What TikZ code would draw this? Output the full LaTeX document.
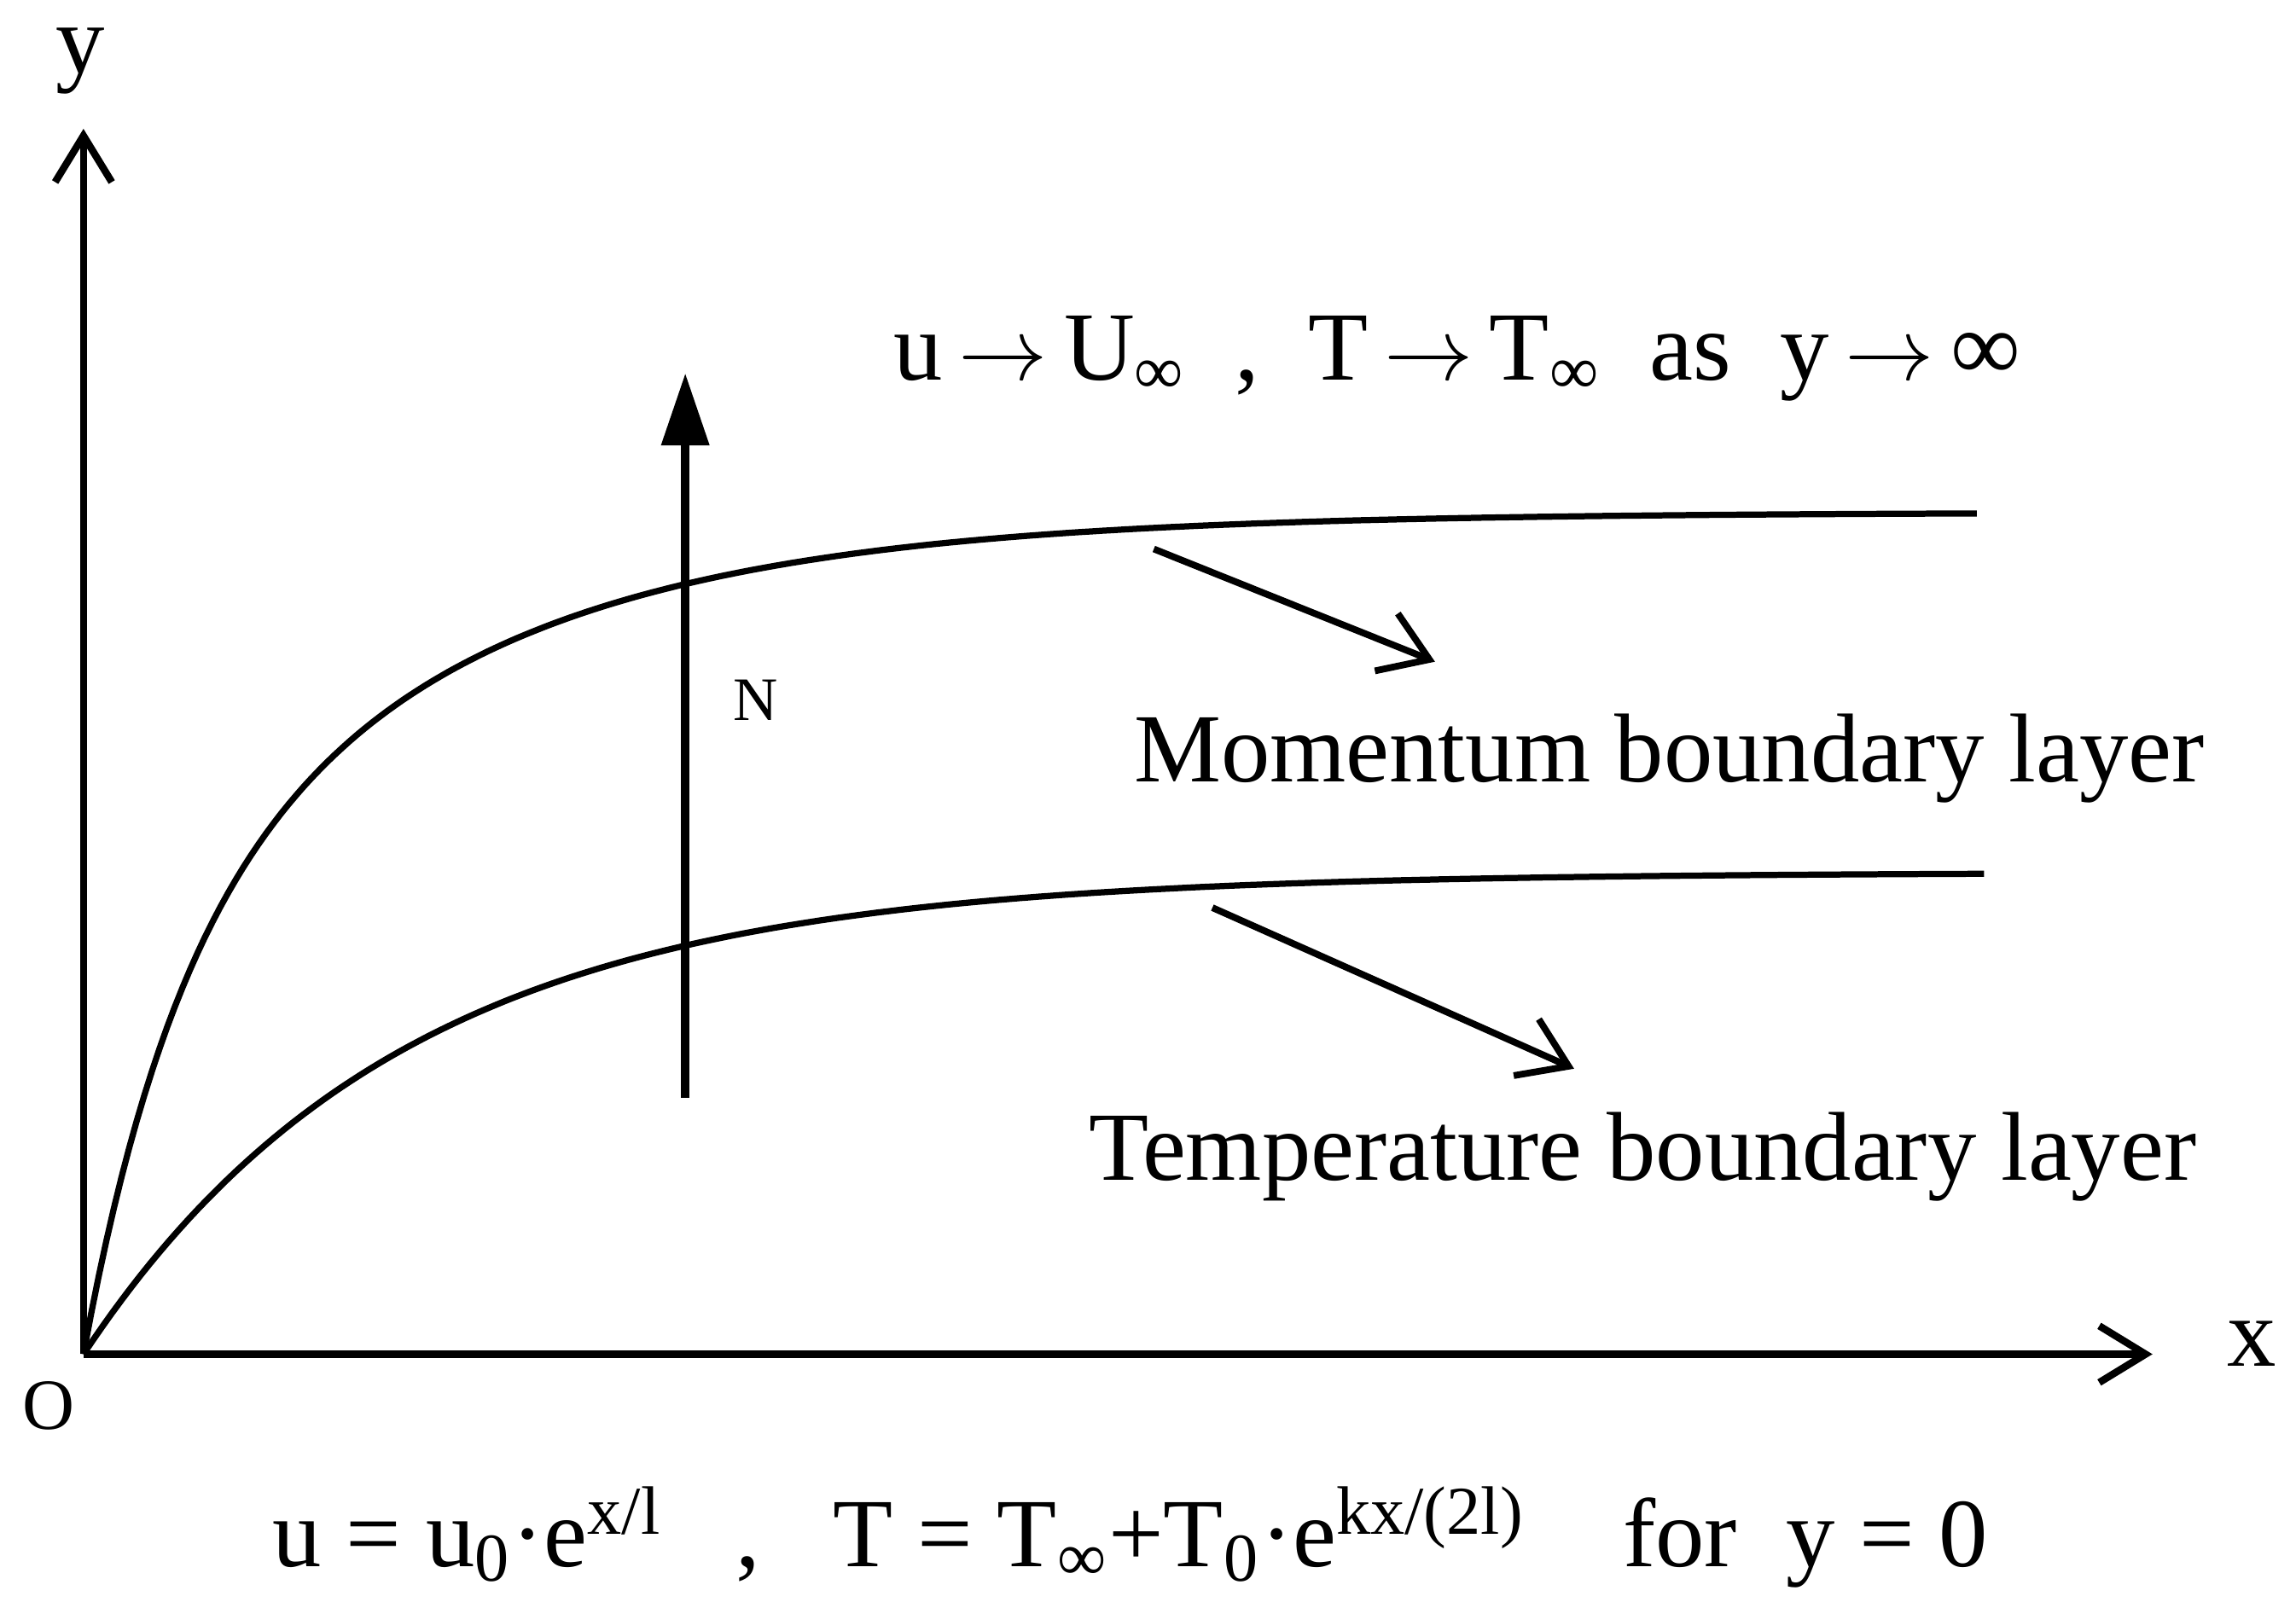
\documentclass[tikz,border=0pt]{standalone}
\usepackage{fontspec}
\setmainfont{Liberation Serif}
\usetikzlibrary{arrows.meta}
\newcommand{\tarr}{\,$\rightarrow$\,}
\begin{document}
\begin{tikzpicture}[x=0.01cm,y=-0.01cm,
  ax/.style={line width=1.4pt,-{Straight Barb[length=9pt,width=11pt,line width=1.4pt]}},
  crv/.style={line width=1.2pt},
  pt/.style={line width=1.3pt,-{Straight Barb[length=9pt,width=12pt,line width=1.3pt]}},
  lbl/.style={font=\fontsize{19}{22}\selectfont, inner sep=0pt},
  sml/.style={font=\fontsize{12}{14}\selectfont, inner sep=0pt}]
\useasboundingbox (0,0) rectangle (1568,1098);
\coordinate (O) at (57,925);
\coordinate (Y) at (57,88);
\coordinate (X) at (1470,925);
\draw[ax] (O) -- (Y);
\draw[ax] (O) -- (X);
\node[lbl] (ylab) at (55,42) {y};
\node[lbl] (xlab) at (1538,918) {x};
\node[sml,font=\fontsize{14}{16}\selectfont] (olab) at (33,960) {O};
\draw[crv] plot[domain=57:1350,samples=250] (\x,{925-575*(1-0.6*exp(-(\x-57)/210)-0.4*exp(-(\x-57)/60))});
\draw[crv] plot[domain=57:1355,samples=200] (\x,{925-329*(1-exp(-(\x-57)/218))});
\coordinate (Nb) at (468,750);
\coordinate (Nt) at (468,255);
\draw[line width=1.6pt,-{Triangle[length=14pt,width=9pt]}] (Nb) -- (Nt);
\node[sml] (N) at (516,478) {N};
\coordinate (a1) at (788,375);
\coordinate (a2) at (980,452);
\draw[pt] (a1) -- (a2);
\coordinate (b1) at (828,620);
\coordinate (b2) at (1075,730);
\draw[pt] (b1) -- (b2);
\node[lbl] (top) at (995,245) {u\tarr U\textsubscript{∞}\ \ ,\ \ T\tarr T\textsubscript{∞}\ \ as\ \ y\tarr ∞};
\node[lbl] (mom) at (1140,518) {Momentum boundary layer};
\node[lbl] (tem) at (1122,790) {Temperature boundary layer};
\node[lbl] (bot) at (772,1050) {u = u\textsubscript{0}·e\textsuperscript{x/l}\ \ \ ,\ \ \ T = T\textsubscript{∞}+T\textsubscript{0}·e\textsuperscript{kx/(2l)}\ \ \ \ for\ \ y = 0};
\end{tikzpicture}
\end{document}
